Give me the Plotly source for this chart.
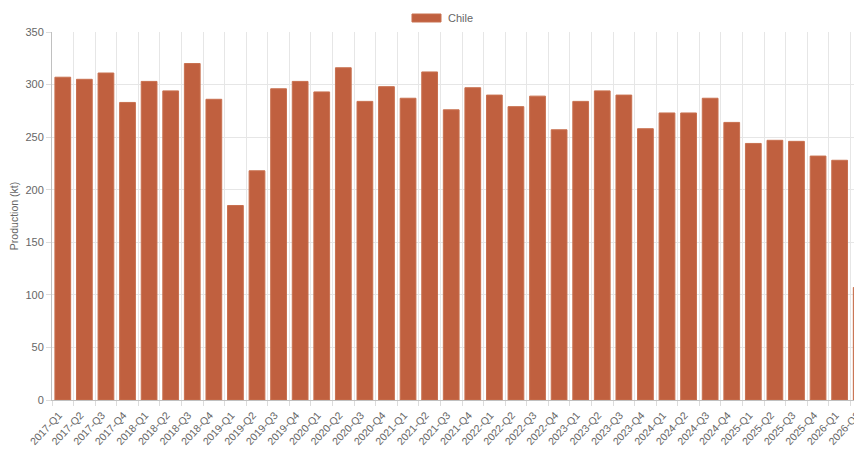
import plotly.graph_objects as go

quarters = [
    "2017-Q1", "2017-Q2", "2017-Q3", "2017-Q4",
    "2018-Q1", "2018-Q2", "2018-Q3", "2018-Q4",
    "2019-Q1", "2019-Q2", "2019-Q3", "2019-Q4",
    "2020-Q1", "2020-Q2", "2020-Q3", "2020-Q4",
    "2021-Q1", "2021-Q2", "2021-Q3", "2021-Q4",
    "2022-Q1", "2022-Q2", "2022-Q3", "2022-Q4",
    "2023-Q1", "2023-Q2", "2023-Q3", "2023-Q4",
    "2024-Q1", "2024-Q2", "2024-Q3", "2024-Q4",
    "2025-Q1", "2025-Q2", "2025-Q3", "2025-Q4",
    "2026-Q1", "2026-Q2",
]
chile = [
    307, 305, 311, 283,
    303, 294, 320, 286,
    185, 218, 296, 303,
    293, 316, 284, 298,
    287, 312, 276, 297,
    290, 279, 289, 257,
    284, 294, 290, 258,
    273, 273, 287, 264,
    244, 247, 246, 232,
    228, 107,
]
y_ticks = [0, 50, 100, 150, 200, 250, 300, 350]

bar_color = "#c0603f"

fig = go.Figure()
fig.add_trace(go.Bar(
    x=quarters, y=chile, name="Chile", showlegend=False,
    marker=dict(color=bar_color, line=dict(color="#c8704f", width=1)),
))

# chart.js style legend: wide swatch + label, centred above the plot
fig.add_shape(type="rect", xref="paper", yref="paper",
              x0=0.439, x1=0.4744, y0=1.0272, y1=1.0489,
              fillcolor=bar_color, line=dict(color="#c8704f", width=1))
fig.add_annotation(text="Chile", xref="paper", yref="paper", x=0.481, y=1.038,
                   xanchor="left", yanchor="middle", showarrow=False,
                   font=dict(size=11, color="#666"))

fig.update_layout(
    width=880, height=455,
    margin=dict(l=52, r=8, t=32, b=55),
    paper_bgcolor="white", plot_bgcolor="white",
    font=dict(family="Liberation Sans, Arial, sans-serif", size=11, color="#666"),
    bargap=0.27,
    xaxis=dict(
        tickson="boundaries", tickangle=-47, showgrid=True,
        gridcolor="#e6e6e6", ticks="outside", ticklen=5, tickcolor="#dcdcdc",
        showline=True, linecolor="#c0c0c0", tickfont=dict(size=10.5),
        ticklabelshift=-4, ticklabelstandoff=4,
        range=[-0.5, len(quarters) - 0.5],
    ),
    yaxis=dict(
        range=[0, 350], tickvals=y_ticks, showgrid=True, gridcolor="#e6e6e6",
        ticks="outside", ticklen=5, tickcolor="#dcdcdc",
        showline=True, linecolor="#c0c0c0", zeroline=False,
        title=dict(text="Production (kt)", font=dict(size=10.5), standoff=4),
    ),
)

fig.write_html(
    "out.html",
    config={"displayModeBar": False},
    post_script="document.body.style.margin='0';document.body.style.overflow='hidden';"
                "document.documentElement.style.overflow='hidden';",
)
